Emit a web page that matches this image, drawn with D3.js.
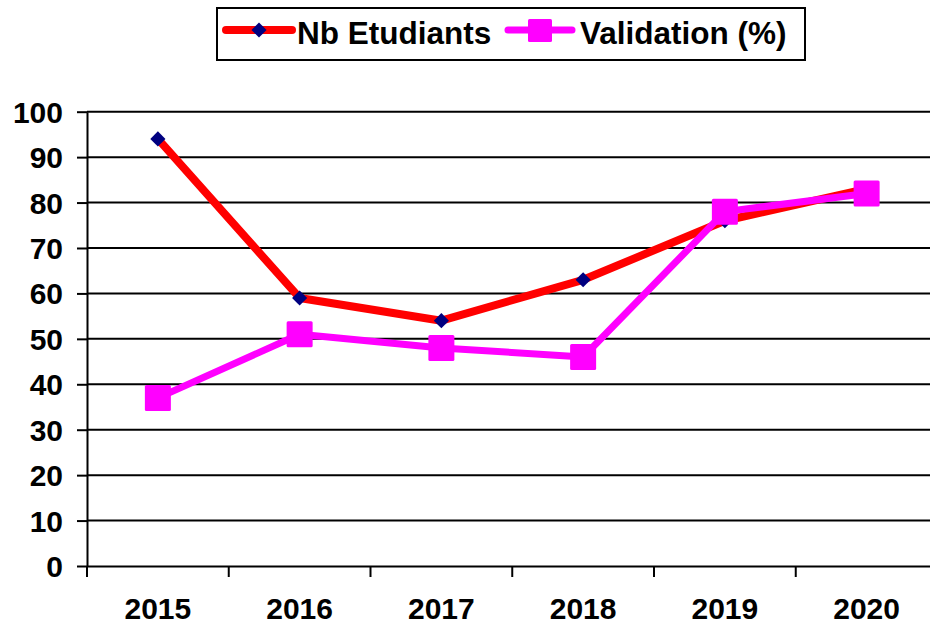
<!DOCTYPE html>
<html><head><meta charset="utf-8">
<script src="https://cdn.jsdelivr.net/npm/d3@7"></script>
<style>body{margin:0;background:#fff;overflow:hidden}svg{display:block}text{font-family:"Liberation Sans",Arial,sans-serif;font-weight:bold;fill:#000}</style>
</head><body>
<svg id="c" width="930" height="630"></svg>
<script>
const years = ["2015","2016","2017","2018","2019","2020"];
const nbEtudiants = [94, 59, 54, 63, 76, 83];
const validation = [37, 51, 48, 46, 78, 82];
const yTicks = [0,10,20,30,40,50,60,70,80,90,100];
const seriesNames = ["Nb Etudiants", "Validation (%)"];

const svg = d3.select("#c");
const x = d3.scaleBand().domain(years).range([87, 937.5]);
const y = d3.scaleLinear().domain([0,100]).range([566, 111.7]);
const xc = d => x(d) + x.bandwidth()/2;

// gridlines
svg.append("g").selectAll("line").data(yTicks.filter(t=>t>0)).join("line")
  .attr("x1", 87).attr("x2", 937.5)
  .attr("y1", d=>y(d)).attr("y2", d=>y(d))
  .attr("stroke","#000").attr("stroke-width",2);

// y axis
const yAxis = d3.axisLeft(y).tickValues(yTicks).tickSize(10).tickPadding(14).tickSizeOuter(0);
const gy = svg.append("g").attr("transform","translate(87,0)").call(yAxis);
gy.select(".domain").attr("stroke","#000").attr("stroke-width",2);
gy.selectAll(".tick line").attr("stroke","#000").attr("stroke-width",2);
gy.selectAll(".tick text").attr("font-size",30).attr("font-family",'"Liberation Sans",Arial,sans-serif').attr("font-weight","bold").attr("fill","#000").attr("dy","0.35em");

// x axis
const xAxis = d3.axisBottom(x).tickSize(0).tickPadding(32).tickSizeOuter(0);
const gx = svg.append("g").attr("transform","translate(0,566)").call(xAxis);
gx.select(".domain").attr("stroke","#000").attr("stroke-width",2);
gx.selectAll(".tick text").attr("font-size",30).attr("font-family",'"Liberation Sans",Arial,sans-serif').attr("font-weight","bold").attr("fill","#000");
// category boundary ticks
svg.append("g").selectAll("line").data(years).join("line")
  .attr("x1", d=>x(d)).attr("x2", d=>x(d))
  .attr("y1", 566).attr("y2", 577)
  .attr("stroke","#000").attr("stroke-width",2);

const line = d3.line().x((d,i)=>xc(years[i])).y(d=>y(d));

// Nb Etudiants
svg.append("path").datum(nbEtudiants).attr("d", line)
  .attr("fill","none").attr("stroke","#ff0000").attr("stroke-width",8).attr("stroke-linejoin","round");
svg.append("g").selectAll("path").data(nbEtudiants).join("path")
  .attr("d", d3.symbol().type(d3.symbolSquare).size(115))
  .attr("transform",(d,i)=>`translate(${xc(years[i])},${y(d)}) rotate(45)`)
  .attr("fill","#000080");

// Validation
svg.append("path").datum(validation).attr("d", line)
  .attr("fill","none").attr("stroke","#ff00ff").attr("stroke-width",7).attr("stroke-linejoin","round");
svg.append("g").selectAll("rect").data(validation).join("rect")
  .attr("x",(d,i)=>xc(years[i])-13).attr("y",d=>y(d)-13)
  .attr("width",26).attr("height",26).attr("rx",1.5)
  .attr("fill","#ff00ff");

// legend
const lg = svg.append("g");
lg.append("rect").attr("x",217).attr("y",8).attr("width",588).attr("height",52)
  .attr("fill","#fff").attr("stroke","#000").attr("stroke-width",2);
lg.append("line").attr("x1",226).attr("x2",292).attr("y1",30).attr("y2",30)
  .attr("stroke","#ff0000").attr("stroke-width",8).attr("stroke-linecap","round");
lg.append("path").attr("d", d3.symbol().type(d3.symbolSquare).size(115)())
  .attr("transform","translate(259,30) rotate(45)").attr("fill","#000080");
lg.append("text").attr("x",297).attr("y",44).attr("font-size",31.5).text(seriesNames[0]);
lg.append("line").attr("x1",508).attr("x2",572).attr("y1",30).attr("y2",30)
  .attr("stroke","#ff00ff").attr("stroke-width",7).attr("stroke-linecap","round");
lg.append("rect").attr("x",528).attr("y",19).attr("width",24).attr("height",23).attr("rx",1.5).attr("fill","#ff00ff");
lg.append("text").attr("x",580).attr("y",44).attr("font-size",31.5).text(seriesNames[1]);
</script>
</body></html>
